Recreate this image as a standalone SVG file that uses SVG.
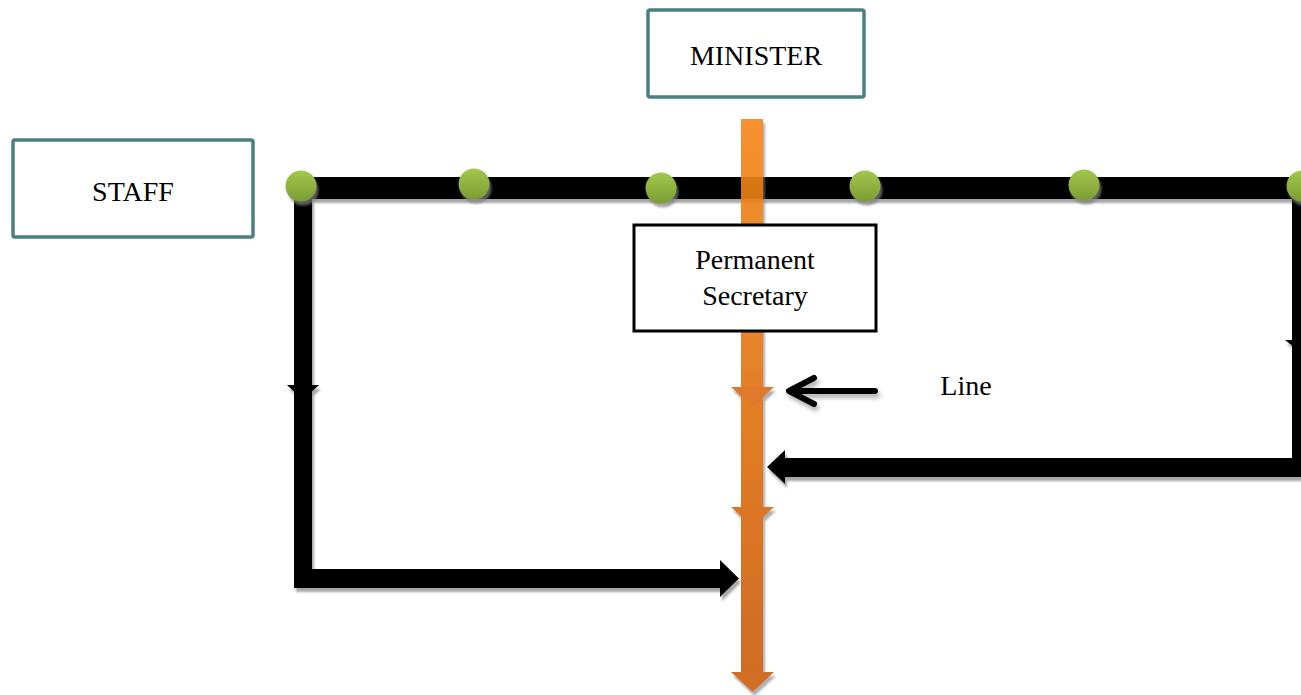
<svg xmlns="http://www.w3.org/2000/svg" width="1301" height="695" viewBox="0 0 1301 695">
<style>
.tbox{fill:#fff;stroke:#4a8084;stroke-width:3.5}
.pbox{fill:#fff;stroke:#000;stroke-width:3}
.lbl{font-family:"Liberation Serif","Times New Roman",serif;font-size:28px;fill:#000;text-anchor:middle}
.blk{fill:#000}
.dot{fill:url(#gg)}
</style>
<defs>
<filter id="sh" x="-10%" y="-10%" width="130%" height="130%">
<feDropShadow dx="2" dy="4" stdDeviation="1" flood-color="#808080" flood-opacity="0.7"/>
</filter>
<filter id="sh2" x="-20%" y="-50%" width="140%" height="200%">
<feDropShadow dx="2" dy="4" stdDeviation="2" flood-color="#808080" flood-opacity="0.6"/>
</filter>
<linearGradient id="og" x1="0" y1="0" x2="0" y2="1">
<stop offset="0" stop-color="#f6861a"/>
<stop offset="1" stop-color="#cb5d08"/>
</linearGradient>
<linearGradient id="gg" x1="0" y1="0" x2="0" y2="1">
<stop offset="0" stop-color="#a2c84c"/>
<stop offset="1" stop-color="#7b9c33"/>
</linearGradient>
</defs>

<g id="connectors">
<g filter="url(#sh)">
<path class="blk" d="M294,177 H1310 V199 H312 V569 H720 V560 L739,578.5 L720,597 V588 H294 Z"/>
<polygon class="blk" points="287,385 319,385 303,400"/>
</g>
<g filter="url(#sh)">
<path class="blk" d="M1292,190 H1310 V477 H785 V484 L767,467 L785,450 V458 H1292 Z"/>
<polygon class="blk" points="1285,340 1310,340 1300,352"/>
</g>
<g filter="url(#sh2)" fill="none" stroke="#000" stroke-width="6" stroke-linecap="round" stroke-linejoin="round">
<path d="M875,391 H791"/>
<path d="M814,378 L789,391 L814,404"/>
</g>
<g filter="url(#sh)" opacity="0.9">
<rect x="741" y="119" width="22" height="555" fill="url(#og)"/>
<polygon points="731,672 774,672 752.5,692" fill="#cc5f0a"/>
<polygon points="731,387 774,387 752.5,407" fill="#dc6c12"/>
<polygon points="731,507 774,507 752.5,527" fill="#d6670f"/>
</g>
</g>

<g id="dots">
<circle class="dot" cx="301" cy="186" r="15.5" filter="url(#sh)"/>
<circle class="dot" cx="474" cy="184" r="15.5" filter="url(#sh)"/>
<circle class="dot" cx="661" cy="188" r="15.5" filter="url(#sh)"/>
<circle class="dot" cx="865" cy="186" r="15.5" filter="url(#sh)"/>
<circle class="dot" cx="1084" cy="185" r="15.5" filter="url(#sh)"/>
<circle class="dot" cx="1302" cy="186" r="15.5" filter="url(#sh)"/>
</g>

<g id="minister">
<rect class="tbox" x="648" y="10" width="216" height="87" rx="2"/>
<text class="lbl" x="756" y="65">MINISTER</text>
</g>
<g id="staff">
<rect class="tbox" x="13" y="140" width="240" height="97" rx="2"/>
<text class="lbl" x="133" y="201">STAFF</text>
</g>
<g id="permanent-secretary">
<rect class="pbox" x="634" y="225" width="242" height="106"/>
<text class="lbl" x="755" y="269">Permanent</text>
<text class="lbl" x="755" y="305">Secretary</text>
</g>
<g id="line-label">
<text class="lbl" x="966" y="395">Line</text>
</g>
</svg>
